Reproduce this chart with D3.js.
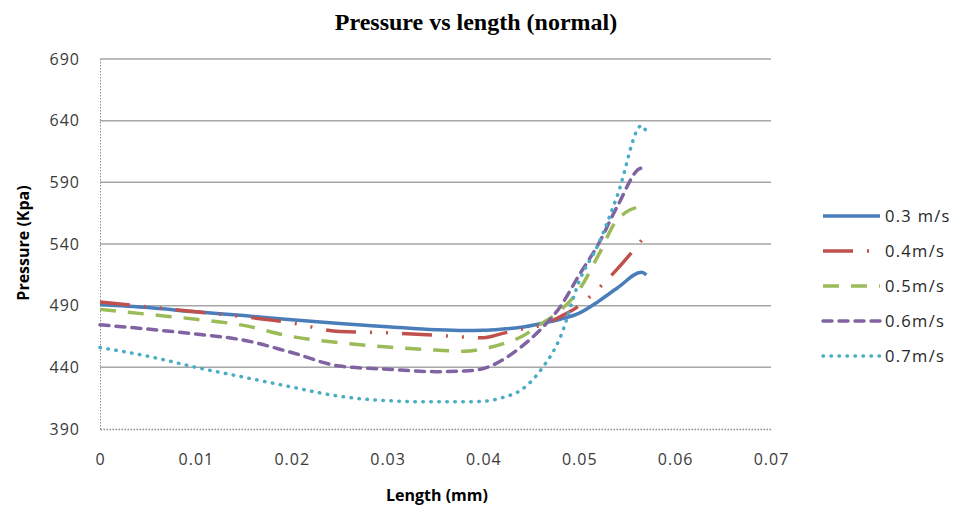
<!DOCTYPE html>
<html>
<head>
<meta charset="utf-8">
<script src="https://cdn.jsdelivr.net/npm/d3@7"></script>
<style>
  html, body { margin: 0; padding: 0; background: #ffffff; }
  svg { display: block; }
  .tick text { font-family: "Open Sans", sans-serif; font-size: 16px; fill: #3a3a3a; letter-spacing: 1px; }
</style>
</head>
<body>
<svg id="chart" width="955" height="512"></svg>
<script>
// Length along the passage (mm) shared by every series
const lengths = [0, 0.005, 0.01, 0.015, 0.02, 0.025, 0.03, 0.035, 0.038, 0.04, 0.042, 0.044, 0.046, 0.048, 0.05, 0.052, 0.054, 0.0565, 0.057];

// Pressure (Kpa) for each inlet velocity
const p03 = [491, 488.5, 485, 482, 478.5, 475.5, 473, 470.5, 469.8, 470, 471, 472.5, 475.5, 479, 484, 493.5, 504.5, 517, 515];
const p04 = [493, 489, 485, 481, 476, 469, 468, 466, 464.5, 464, 467.5, 471, 474, 481, 490, 504, 520, 543, null];
const p05 = [487, 483, 479, 474, 465, 460, 456.5, 454, 453, 455, 459, 465, 475, 486, 503, 531, 560, 570, 567.5];
const p06 = [474.5, 471, 467, 462, 452, 441, 438.5, 436.5, 437, 439, 446, 457, 471, 489, 515, 540, 571, 601.5, 599];
const p07 = [456, 449, 440, 432, 424, 416.5, 413, 412, 412, 412.5, 415.5, 422, 438, 464, 510, 540, 580, 636, 631];

const seriesNames = ["0.3 m/s", "0.4m/s", "0.5m/s", "0.6m/s", "0.7m/s"];
const seriesValues = [p03, p04, p05, p06, p07];
const seriesColors = ["#4a7ebb", "#c0504d", "#9bbb59", "#8064a2", "#4bacc6"];

const xTicks = [0, 0.01, 0.02, 0.03, 0.04, 0.05, 0.06, 0.07];
const yTicks = [390, 440, 490, 540, 590, 640, 690];

const titleText = "Pressure vs length (normal)";
const xTitle = "Length (mm)";
const yTitle = "Pressure (Kpa)";

// Line styles per series: solid, long dash-dot-dot, dash, short dash, round dots
const styles = [
  { dash: null, cap: "butt" },
  { dash: "30,14,2,14,2,14", cap: "butt" },
  { dash: "16,12", cap: "butt" },
  { dash: "9,7", cap: "round" },
  { dash: "0.5,7.5", cap: "round" }
];

const svg = d3.select("#chart");
const plot = { left: 100, right: 771, top: 59, bottom: 429 };

const x = d3.scaleLinear().domain([0, 0.07]).range([plot.left, plot.right]);
const y = d3.scaleLinear().domain([390, 690]).range([plot.bottom, plot.top]);

// Horizontal gridlines
svg.append("g")
  .selectAll("line")
  .data(yTicks.filter(v => v !== 390))
  .join("line")
  .attr("x1", plot.left).attr("x2", plot.right)
  .attr("y1", d => y(d)).attr("y2", d => y(d))
  .attr("stroke", "#a6a6a6").attr("stroke-width", 1.5);

// Axes
const yAxis = svg.append("g")
  .attr("transform", `translate(${plot.left},0)`)
  .call(d3.axisLeft(y).tickValues(yTicks).tickSize(0).tickPadding(20).tickFormat(d3.format("d")));
yAxis.select(".domain").attr("stroke", "#8c8c8c").attr("stroke-width", 1).attr("stroke-dasharray", "1.5,1.5");

const xAxis = svg.append("g")
  .attr("transform", `translate(0,${plot.bottom})`)
  .call(d3.axisBottom(x).tickValues(xTicks).tickSize(0).tickPadding(25)
    .tickFormat(d => d === 0 ? "0" : d3.format(".2f")(d)));
xAxis.select(".domain").attr("stroke", "#8c8c8c").attr("stroke-width", 1.5).attr("stroke-dasharray", "1.5,1.5");

// Series lines
const line = d3.line()
  .defined(d => d[1] !== null)
  .x(d => x(d[0]))
  .y(d => y(d[1]))
  .curve(d3.curveMonotoneX);

const lines = svg.append("g");
seriesValues.forEach((vals, i) => {
  const pts = lengths.map((l, j) => [l, vals[j]]);
  lines.append("path")
    .datum(pts)
    .attr("d", line)
    .attr("fill", "none")
    .attr("stroke", seriesColors[i])
    .attr("stroke-width", 3.5)
    .attr("stroke-linecap", styles[i].cap)
    .attr("stroke-linejoin", "round")
    .attr("stroke-dasharray", styles[i].dash);
});

// Legend
const legend = svg.append("g").attr("transform", "translate(823,216)");
seriesNames.forEach((name, i) => {
  const g = legend.append("g").attr("transform", `translate(0,${i * 35})`);
  g.append("line")
    .attr("x1", 0).attr("x2", 57).attr("y1", 0).attr("y2", 0)
    .attr("stroke", seriesColors[i])
    .attr("stroke-width", 3.5)
    .attr("stroke-linecap", styles[i].cap)
    .attr("stroke-dasharray", styles[i].dash);
  g.append("text")
    .attr("x", 62).attr("y", 0).attr("dy", "0.35em")
    .attr("font-family", "Open Sans, sans-serif")
    .attr("font-size", 16.5)
    .attr("letter-spacing", 1.3)
    .attr("fill", "#262626")
    .text(name);
});

// Titles
svg.append("text")
  .attr("x", 476).attr("y", 30)
  .attr("text-anchor", "middle")
  .attr("font-family", "Liberation Serif, serif")
  .attr("font-weight", "bold")
  .attr("font-size", 24)
  .attr("fill", "#000")
  .text(titleText);

svg.append("text")
  .attr("x", 437).attr("y", 501)
  .attr("text-anchor", "middle")
  .attr("font-family", "Open Sans, sans-serif")
  .attr("font-weight", "bold")
  .attr("font-size", 16)
  .attr("fill", "#000")
  .text(xTitle);

svg.append("text")
  .attr("transform", "translate(29,243) rotate(-90)")
  .attr("text-anchor", "middle")
  .attr("font-family", "Open Sans, sans-serif")
  .attr("font-weight", "bold")
  .attr("font-size", 16)
  .attr("fill", "#000")
  .text(yTitle);
</script>
</body>
</html>
